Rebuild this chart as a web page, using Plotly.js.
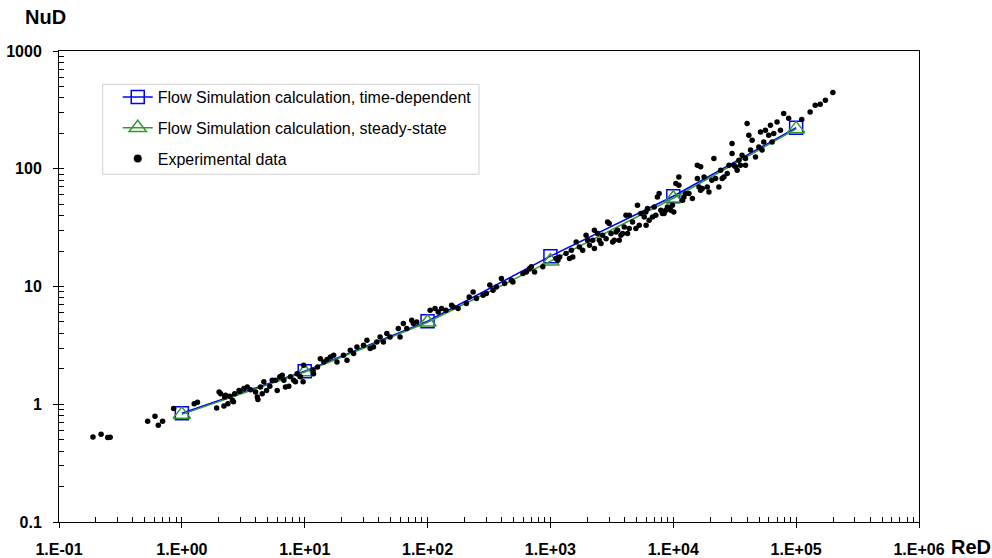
<!DOCTYPE html>
<html><head><meta charset="utf-8">
<script src="https://cdn.plot.ly/plotly-3.0.1.min.js"></script>
<style>html,body{margin:0;padding:0;background:#fff}#chart{width:992px;height:558px}</style>
</head><body><div id="chart"></div>
<script>
// Flow Simulation results
const reSim = [1, 10, 100, 1000, 10000, 100000];
const nuTimeDependent = [0.84, 1.91, 5.07, 18.1, 58.4, 223];
const nuSteadyState = [0.82, 1.88, 4.97, 16.4, 56.2, 218];

const reExp = [
  0.189,0.220,0.249,0.261,0.527,0.604,0.643,0.697,0.857,
  1.26,1.34,1.92,2.07,2.23,2.20,2.37,2.63,2.46,2.69,2.97,3.41,3.63,3.98,4.11,4.16,4.37,4.51,4.65,4.89,5.20,5.44,5.78,5.97,6.27,6.56,6.76,6.97,7.42,7.66,8.14,8.67,8.41,9.23,9.70,11.7,11.8,12.7,13.4,14.3,15.2,2.01,2.27,2.58,2.92,3.20,9.81,
  16.2,17.2,18.3,20.7,22.1,23.5,25.0,26.6,30.1,32.1,34.1,36.3,38.6,41.1,43.7,46.6,49.5,57.8,59.7,63.5,67.7,74.3,76.6,81.6,105,115,122,130,141,
  157,162,177,207,218,235,250,283,301,321,341,363,399,424,481,495,597,637,677,699,743,867,1110,1150,
  1190,1340,1480,1520,1620,1720,1830,1950,2080,2210,2280,2420,2500,2660,2840,2920,3110,3310,3520,3750,3990,4120,4240,4660,4960,5110,5280,5800,5980,6360,6770,6990,7670,7920,8420,9250,9840,10500,11100,
  1430,2010,2580,3010,3210,3420,3630,3870,4380,5450,6170,7210,7430,8160,8690,8960,9540,10100,11900,12600,
  2280,4380,6010,
  11100,12200,13400,14300,15700,15700,16200,16700,17800,18900,19500,21400,22100,23500,24300,25800,27500,28400,30100,30100,32100,33100,34200,36300,38700,39900,41200,42500,43800,46700,49700,51300,54500,56200,59800,61800,63700,69900,74500,79200,20600,16700,52800,38700,
  17200,25000,31100,35200,65700,86900,
  111000,130000,143000,157000,173000,199000
];
const nuExp = [
  0.527,0.556,0.521,0.525,0.717,0.791,0.663,0.717,0.919,
  1.01,1.04,0.93,1.23,1.15,0.967,1.01,1.05,1.17,1.23,1.29,1.40,1.33,1.27,1.15,1.10,1.40,1.23,1.55,1.31,1.42,1.60,1.60,1.31,1.71,1.76,1.60,1.40,1.42,1.71,1.60,1.82,1.55,1.71,1.55,1.94,1.82,2.07,2.44,2.29,2.40,1.27,1.19,1.08,1.31,1.36,2.14,
  2.52,2.61,2.29,2.61,2.36,2.88,2.70,3.07,3.17,3.50,2.97,3.07,3.38,3.73,3.38,3.98,3.73,4.40,3.73,4.84,4.40,5.17,4.84,5.00,6.28,6.50,6.08,6.50,6.28,
  6.93,6.70,6.50,7.16,8.15,8.99,7.90,8.43,8.71,10.3,9.29,9.91,11.7,10.6,11.3,10.9,12.9,13.3,14.2,14.7,13.3,14.7,17.3,16.7,
  17.8,19.1,20.3,17.8,23.9,21.7,20.3,27.2,22.4,24.7,21.0,28.2,24.7,27.2,25.5,35.3,28.2,24.7,30.0,27.2,32.0,40.3,28.2,35.3,31.1,49.0,33.1,39.0,43.0,36.5,39.0,47.4,61.5,44.4,41.7,45.9,49.0,74.8,85.2,
  17.3,24.7,23.2,34.3,23.9,29.1,24.7,28.2,31.1,41.7,45.9,40.3,57.6,41.7,44.4,47.4,44.4,43.0,54.0,61.5,
  30.0,40.3,33.1,
  72.4,57.6,61.5,55.8,82.6,107,70.0,104,85.2,70.0,63.5,122,82.6,70.0,97.1,85.2,91.0,107,135,164,104,97.1,118,130,107,242,193,144,175,126,153,205,169,212,193,234,169,250,212,294,79.8,65.7,144,122,
  67.9,82.6,107,107,199,268,
  262,304,346,353,382,444
];

// Axis ticks
const xTickVals = [0.1, 1, 10, 100, 1000, 10000, 100000, 1000000];
const xTickText = ['1.E-01','1.E+00','1.E+01','1.E+02','1.E+03','1.E+04','1.E+05','1.E+06'];
const yTickVals = [0.1, 1, 10, 100, 1000];
const yTickText = ['0.1','1','10','100','1000'];

function minorPositions(lo, hi) {
  const v = [];
  for (let e = lo; e < hi; e++) for (let m = 2; m <= 9; m++) v.push(m * Math.pow(10, e));
  return v;
}

const FONT = 'Liberation Sans, Arial, sans-serif';
const BLUE = '#0000ff';
const GREEN = '#339933';

const traces = [
  {
    x: reSim, y: nuTimeDependent, type: 'scatter', mode: 'lines+markers',
    name: 'Flow Simulation calculation, time-dependent', legendgroup: 'a',
    line: {color: BLUE, width: 1.5},
    marker: {symbol: 'square-open', size: 13, color: BLUE, line: {width: 1.5, color: BLUE}}
  },
  {
    x: reSim, y: nuSteadyState, type: 'scatter', mode: 'lines+markers',
    name: 'Flow Simulation calculation, steady-state', legendgroup: 'b',
    line: {color: GREEN, width: 1.5},
    marker: {symbol: 'triangle-up-open', size: 15, color: GREEN, line: {width: 1.5, color: GREEN}}
  },
  {
    x: reExp, y: nuExp, type: 'scatter', mode: 'markers',
    name: 'Experimental data', legendgroup: 'c', showlegend: false,
    marker: {symbol: 'circle', size: 5.5, color: '#000000'}
  },
  {
    x: [null], y: [null], type: 'scatter', mode: 'markers',
    name: 'Experimental data', legendgroup: 'c', showlegend: true, hoverinfo: 'skip',
    marker: {symbol: 'circle', size: 8, color: '#000000'}
  },
  { x: [], y: [], xaxis: 'x2', yaxis: 'y2', showlegend: false, hoverinfo: 'skip', type: 'scatter' }
];

const tickFont = {family: FONT, size: 16, color: '#000', weight: 'bold'};

const layout = {
  width: 992, height: 558,
  margin: {l: 59, r: 73, t: 51, b: 36, pad: 0},
  paper_bgcolor: '#ffffff', plot_bgcolor: '#ffffff',
  showlegend: true,
  hovermode: false,
  xaxis: {
    type: 'log', range: [-1, 6], showgrid: false, zeroline: false,
    showline: true, linecolor: '#000', linewidth: 1, mirror: true,
    tickmode: 'array', tickvals: xTickVals, ticktext: xTickText,
    ticks: 'outside', ticklen: 5, tickcolor: '#000', tickwidth: 1,
    tickfont: tickFont, ticklabelstandoff: 8,
    minor: {tickmode: 'array', tickvals: minorPositions(-1, 6), ticks: 'inside', ticklen: 5, tickcolor: '#000', tickwidth: 1, showgrid: false}
  },
  yaxis: {
    type: 'log', range: [-1, 3], showgrid: false, zeroline: false,
    showline: true, linecolor: '#000', linewidth: 1, mirror: true,
    tickmode: 'array', tickvals: yTickVals, ticktext: yTickText,
    ticks: 'outside', ticklen: 5, tickcolor: '#000', tickwidth: 1,
    tickfont: tickFont, ticklabelstandoff: 8,
    minor: {tickmode: 'array', tickvals: minorPositions(-1, 3), ticks: 'inside', ticklen: 5, tickcolor: '#000', tickwidth: 1, showgrid: false}
  },
  xaxis2: {
    type: 'log', range: [-1, 6], overlaying: 'x', anchor: 'y2', side: 'bottom',
    showgrid: false, zeroline: false, showline: false, showticklabels: false,
    tickmode: 'array', tickvals: xTickVals, ticks: 'inside', ticklen: 5, tickcolor: '#000', tickwidth: 1
  },
  yaxis2: {
    type: 'log', range: [-1, 3], overlaying: 'y', anchor: 'x2', side: 'left',
    showgrid: false, zeroline: false, showline: false, showticklabels: false,
    tickmode: 'array', tickvals: yTickVals, ticks: 'inside', ticklen: 5, tickcolor: '#000', tickwidth: 1
  },
  legend: {
    x: 0.0683, y: 0.9384, xanchor: 'left', yanchor: 'top',
    bgcolor: 'rgba(0,0,0,0)', borderwidth: 0,
    font: {family: FONT, size: 16, color: '#000'},
    traceorder: 'grouped', tracegroupgap: 7
  },
  shapes: [{
    type: 'rect', xref: 'paper', yref: 'paper', layer: 'below',
    x0: 0.0508, x1: 0.4884, y0: 0.7382, y1: 0.9293,
    line: {color: '#d0d0d0', width: 1}, fillcolor: 'rgba(0,0,0,0)'
  }],
  annotations: [
    {text: 'NuD', xref: 'paper', yref: 'paper', x: -0.0419, y: 1.0722, xanchor: 'left', yanchor: 'middle',
     showarrow: false, font: {family: FONT, size: 20, color: '#000', weight: 'bold'}},
    {text: 'ReD', xref: 'paper', yref: 'paper', x: 1.0349, y: -0.0531, xanchor: 'left', yanchor: 'middle',
     showarrow: false, font: {family: FONT, size: 20, color: '#000', weight: 'bold'}}
  ]
};

Plotly.newPlot('chart', traces, layout, {displayModeBar: false, staticPlot: true});
</script>
</body></html>
